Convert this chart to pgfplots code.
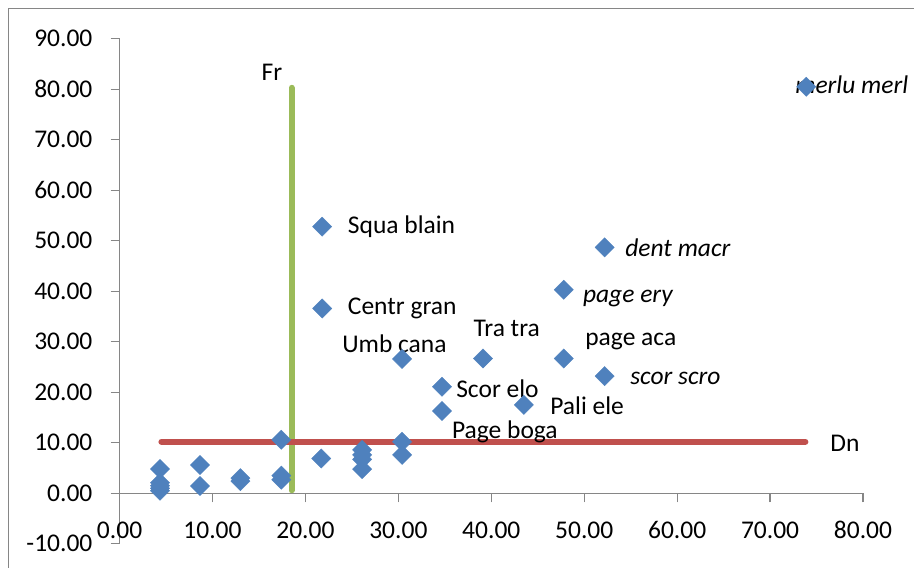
\documentclass[border=0pt]{standalone}
\usepackage{pgfplots}
\pgfplotsset{compat=1.18}
\usepackage{fontspec}
\setmainfont{Carlito}
\definecolor{mblue}{RGB}{79,129,189}
\definecolor{fgreen}{RGB}{155,187,89}
\definecolor{dred}{RGB}{192,80,77}
\definecolor{axgray}{RGB}{134,134,134}
\begin{document}
\fontsize{25.5bp}{30bp}\selectfont
\begin{tikzpicture}
\useasboundingbox (0,0) rectangle (914bp,568bp);
\draw[axgray, line width=1.3bp] (8.7bp,0) -- (8.7bp,559.3bp) -- (914bp,559.3bp);
\begin{axis}[
  at={(119.6bp,74.7bp)}, anchor=origin,
  scale only axis, width=743.4bp, height=505bp,
  xmin=0, xmax=80, ymin=-10, ymax=90,
  axis x line=middle, axis y line=left,
  axis line style={axgray, line width=1.3bp, -},
  xtick={0,10,...,80}, ytick={-10,0,...,90},
  xticklabels={0.00,10.00,20.00,30.00,40.00,50.00,60.00,70.00,80.00},
  yticklabels={-10.00,0.00,10.00,20.00,30.00,40.00,50.00,60.00,70.00,80.00,90.00},
  tick align=outside, major tick length=9bp,
  tick style={axgray, line width=1.3bp},
  hide obscured x ticks=false, hide obscured y ticks=false,
  xticklabel style={anchor=center, yshift=-28bp, inner sep=0pt},
  yticklabel style={anchor=east, inner sep=0pt, xshift=-18bp},
  every tick label/.append style={font=\fontsize{25.5bp}{30bp}\selectfont},
  clip=false,
]
\addplot[only marks, mark=square*, mark size=6.8bp,
  mark options={rotate=45, fill=mblue, draw=mblue}] coordinates {
  (4.35,4.8) (4.35,2.1) (4.35,1.5) (4.35,1.0) (4.35,0.5)
  (8.65,5.6) (8.65,1.45)
  (13.0,3.0) (13.0,2.4)
  (17.4,10.6) (17.4,3.5) (17.4,2.7)
  (21.7,6.9)
  (26.1,8.6) (26.1,7.6) (26.1,6.7) (26.1,4.8)
  (30.4,10.2) (30.4,7.6)
  (21.8,52.8) (21.8,36.6) (30.4,26.6) (39.1,26.7) (47.8,26.7) (47.8,40.3)
  (52.2,23.2) (43.5,17.5) (34.7,21.1) (34.7,16.3) (52.2,48.7) (73.9,80.5)
};
\addplot[fgreen, line width=6bp, line cap=round] coordinates {(18.5,0.6) (18.5,80.3)};
\addplot[dred, line width=6bp, line cap=round] coordinates {(4.5,10.2) (73.8,10.2)};
\begin{scope}[every node/.style={anchor=west, inner sep=0pt}]
\node at (axis cs:24.55,52.8) {Squa blain};
\node at (axis cs:24.55,36.6) {Centr gran};
\node at (axis cs:23.94,29.7) {Umb cana};
\node at (axis cs:38.07,32.67) {Tra tra};
\node at (axis cs:50.1,30.0) {page aca};
\node at (axis cs:49.85,38.6) {\itshape page ery};
\node at (axis cs:54.94,22.8) {\itshape scor scro};
\node at (axis cs:46.33,17.3) {Pali ele};
\node at (axis cs:36.21,20.8) {Scor elo};
\node at (axis cs:35.75,12.2) {Page boga};
\node at (axis cs:54.4,48.7) {\itshape dent macr};
\node at (axis cs:72.7,80.85) {\itshape merlu merl};
\node at (axis cs:76.47,9.9) {Dn};
\node[anchor=center] at (axis cs:16.4,83.3) {Fr};
\end{scope}
\end{axis}
\end{tikzpicture}
\end{document}
